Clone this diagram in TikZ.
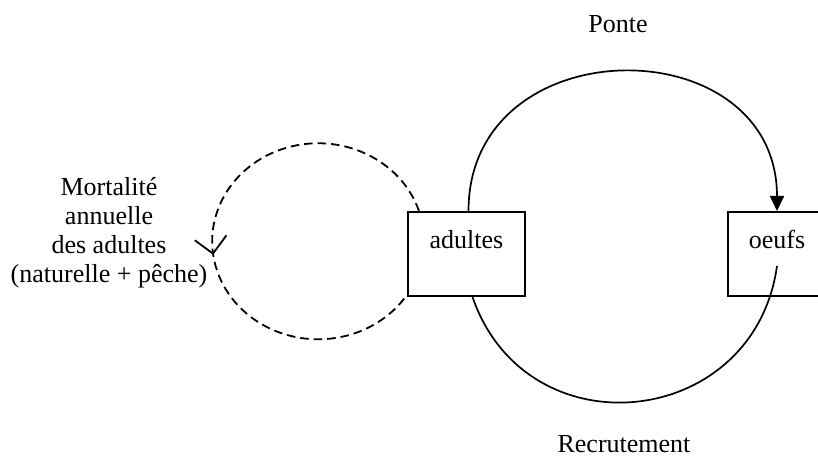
\documentclass[tikz,border=0pt]{standalone}
\usepackage{fontspec}
\setmainfont{Liberation Serif}
\usetikzlibrary{arrows.meta,decorations.markings}
\tikzset{stock/.style={draw,line width=1pt,inner sep=0pt,minimum width=58.5pt,text height=18.5pt,text depth=23.5pt,font=\fontsize{13}{14.5}\selectfont}, lbl/.style={align=center,inner sep=0pt,font=\fontsize{13}{14.5}\selectfont}, flux/.style={line width=0.85pt}, perte/.style={line width=0.9pt,dash pattern=on 4.25pt off 2.5pt,postaction={decorate},decoration={markings,mark=at position 0.55 with {\arrow{Straight Barb[length=8pt,width=16pt]}}}}}

\begin{document}
\begin{tikzpicture}[x=0.5pt,y=0.5pt]
\useasboundingbox (0,0) rectangle (818,455);
\node[stock] (adultes) at (466.5,201){adultes};
\node[stock,minimum width=49pt] (oeufs) at (777,201){oeufs};
\node[lbl,anchor=base] (ponte) at (618,422){Ponte};
\node[lbl,anchor=base] (recrut) at (624,3){Recrutement};
\node[lbl,anchor=base] (mort) at (109,172){Mortalité\\annuelle\\des adultes\\(naturelle + pêche)};
% ponte puis recrutement
\draw[flux,-{Triangle[length=7.5pt,width=7pt]}] ([xshift=1pt]adultes.north) .. controls +(0,185) and +(0,185) .. (oeufs.north);
\draw[flux] ([xshift=3pt]adultes.south) .. controls +(-71:165.6) and +(-98:165.6) .. ([yshift=-6pt]oeufs.center);
% mortalite
\draw[perte] ([xshift=6pt]adultes.north west) arc[start angle=18,end angle=326,x radius=106,y radius=98];
\end{tikzpicture}
\end{document}
